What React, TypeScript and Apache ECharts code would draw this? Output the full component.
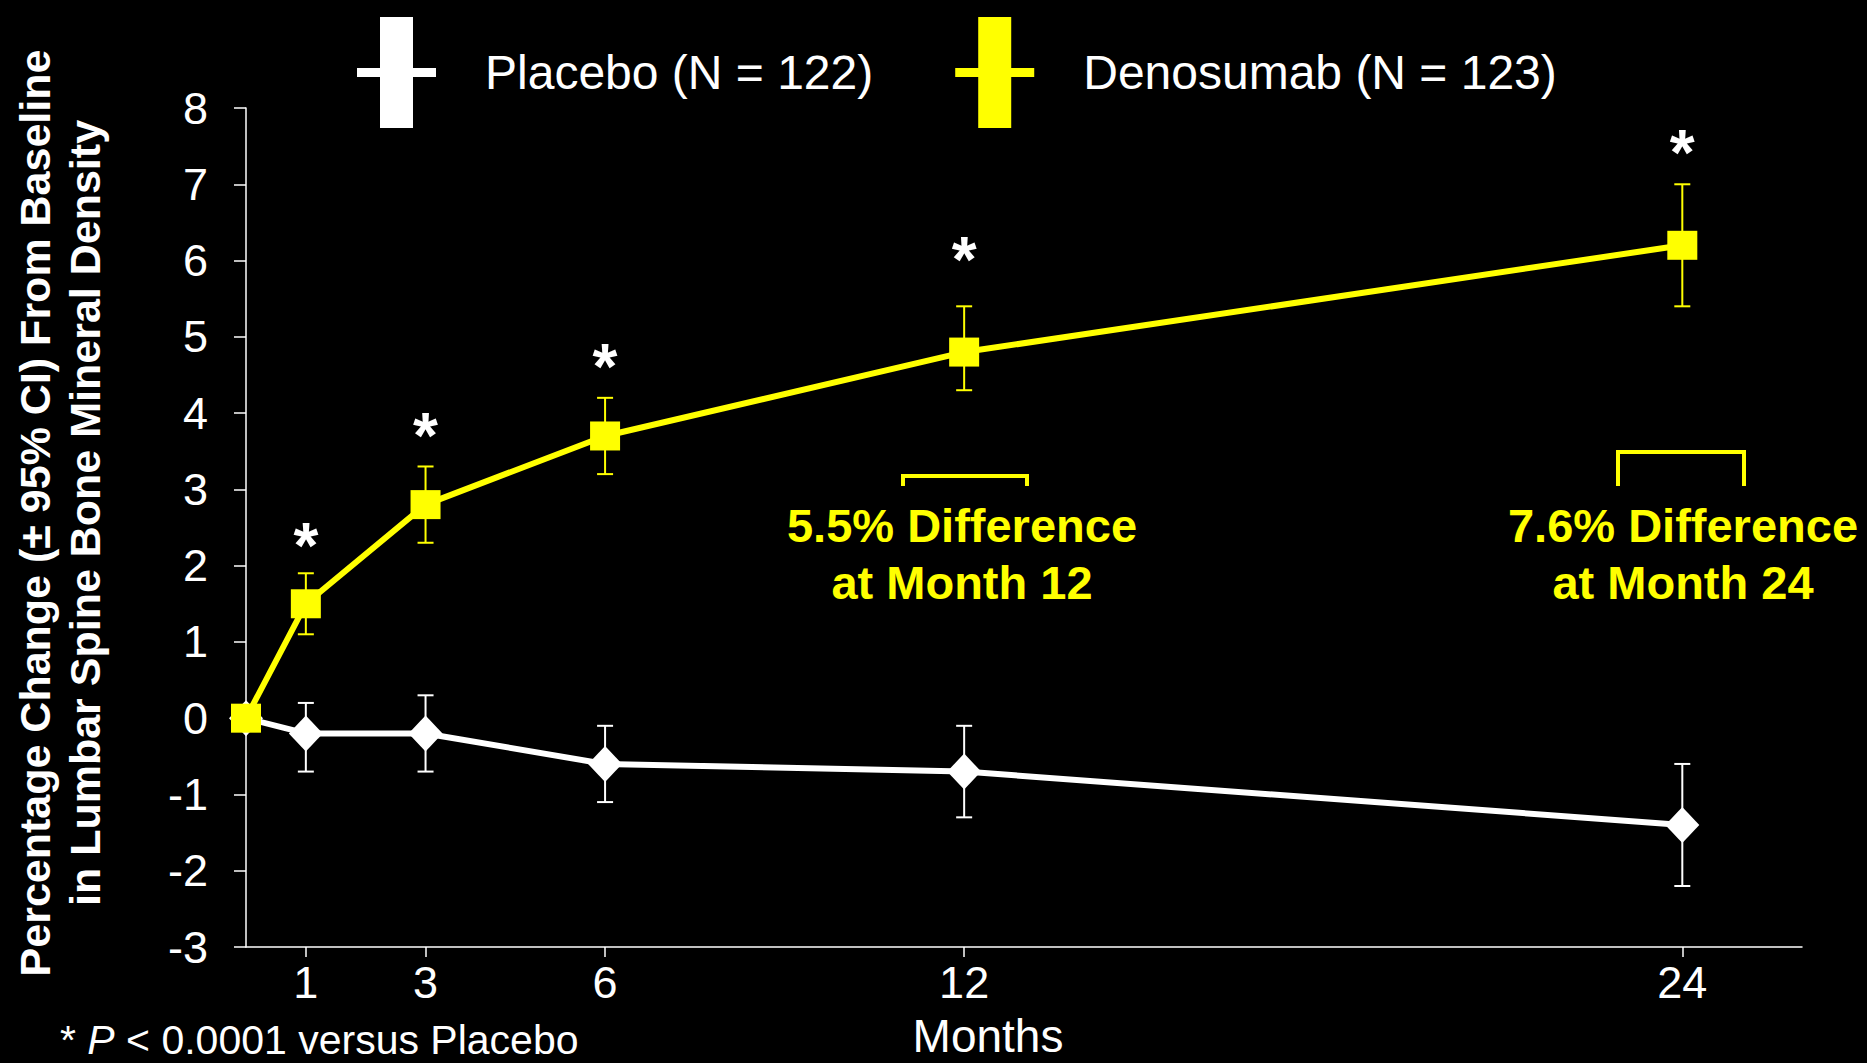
import React, { useEffect, useRef } from "react";
import * as echarts from "echarts";

const FONT = "'Liberation Sans', Arial, Helvetica, sans-serif";
const YELLOW = "#ffff00";
const WHITE = "#ffffff";

// Study visits (months) and mean % change in lumbar spine BMD with 95% CI bounds
const months = [0, 1, 3, 6, 12, 24];
const placeboMean = [0, -0.2, -0.2, -0.6, -0.7, -1.4];
const placeboLow = [null, -0.7, -0.7, -1.1, -1.3, -2.2];
const placeboHigh = [null, 0.2, 0.3, -0.1, -0.1, -0.6];
const denosumabMean = [0, 1.5, 2.8, 3.7, 4.8, 6.2];
const denosumabLow = [null, 1.1, 2.3, 3.2, 4.3, 5.4];
const denosumabHigh = [null, 1.9, 3.3, 4.2, 5.4, 7.0];

// Significance markers (P < 0.0001) above the denosumab points
const starMonths = [1, 3, 6, 12, 24];
const starLevels = [2.4, 3.85, 4.75, 6.15, 7.55];

const xTickMonths = [1, 3, 6, 12, 24];
const seriesNames = ["Placebo (N = 122)", "Denosumab (N = 123)"];

// Error-bar style legend glyph: thick vertical bar crossed by a thin arm
const crossIcon =
  "path://M23,0L56,0L56,51L79,51L79,60L56,60L56,111L23,111L23,60L0,60L0,51L23,51Z";

function pairs(xs: number[], ys: (number | null)[]) {
  return xs.map((x, i) => [x, ys[i]]);
}

function ciRows(lows: (number | null)[], highs: (number | null)[]) {
  const rows: number[][] = [];
  months.forEach((m, i) => {
    const lo = lows[i];
    const hi = highs[i];
    if (lo != null && hi != null) rows.push([m, lo, hi]);
  });
  return rows;
}

function errorBarSeries(rows: number[][], color: string) {
  return {
    type: "custom",
    z: 1,
    silent: true,
    data: rows,
    encode: { x: 0, y: [1, 2] },
    renderItem: (_params: any, api: any) => {
      const x = api.value(0);
      const top = api.coord([x, api.value(2)]);
      const bottom = api.coord([x, api.value(1)]);
      const half = 8;
      const style = { stroke: color, lineWidth: 2 };
      return {
        type: "group",
        children: [
          { type: "line", shape: { x1: top[0], y1: top[1], x2: bottom[0], y2: bottom[1] }, style },
          { type: "line", shape: { x1: top[0] - half, y1: top[1], x2: top[0] + half, y2: top[1] }, style },
          { type: "line", shape: { x1: bottom[0] - half, y1: bottom[1], x2: bottom[0] + half, y2: bottom[1] }, style },
        ],
      };
    },
  };
}

function bracket(x1: number, x2: number, yTop: number, yFoot: number) {
  return {
    type: "polyline",
    shape: { points: [[x1, yFoot], [x1, yTop], [x2, yTop], [x2, yFoot]] },
    style: { stroke: YELLOW, lineWidth: 4, fill: "none" },
    z: 10,
  };
}

function note(text: string, x: number, y: number) {
  return {
    type: "text",
    x,
    y,
    z: 10,
    style: {
      text,
      fill: YELLOW,
      font: `bold 47px ${FONT}`,
      align: "center",
      verticalAlign: "middle",
      lineHeight: 57,
    },
  };
}

export default function App() {
  const ref = useRef<HTMLDivElement>(null);

  useEffect(() => {
    if (!ref.current) return;
    const chart = echarts.init(ref.current, null, { renderer: "svg" });

    const option: any = {
      animation: false,
      backgroundColor: "#000000",
      textStyle: { fontFamily: FONT },
      grid: { left: 246, right: 65, top: 108, bottom: 116 },
      legend: {
        left: 352,
        top: 12,
        itemWidth: 79,
        itemHeight: 111,
        itemGap: 82,
        selectedMode: false,
        data: [
          { name: seriesNames[0], icon: crossIcon, itemStyle: { color: WHITE } },
          { name: seriesNames[1], icon: crossIcon, itemStyle: { color: YELLOW } },
        ],
        textStyle: { color: WHITE, fontSize: 48, fontFamily: FONT, padding: [0, 0, 0, 44] },
      },
      xAxis: {
        type: "value",
        min: 0,
        max: 26,
        splitLine: { show: false },
        axisLine: { show: true, onZero: false, lineStyle: { color: WHITE, width: 1.5 } },
        axisTick: {
          show: true,
          customValues: xTickMonths,
          length: 10,
          lineStyle: { color: WHITE, width: 1.5 },
        },
        axisLabel: {
          customValues: xTickMonths,
          color: WHITE,
          fontSize: 45,
          fontFamily: FONT,
          margin: 13,
        },
      },
      yAxis: {
        type: "value",
        min: -3,
        max: 8,
        interval: 1,
        splitLine: { show: false },
        axisLine: { show: true, lineStyle: { color: WHITE, width: 1.5 } },
        axisTick: { show: true, length: 12, lineStyle: { color: WHITE, width: 1.5 } },
        axisLabel: { color: WHITE, fontSize: 45, fontFamily: FONT, margin: 38 },
      },
      series: [
        errorBarSeries(ciRows(placeboLow, placeboHigh), WHITE),
        errorBarSeries(ciRows(denosumabLow, denosumabHigh), YELLOW),
        {
          name: seriesNames[0],
          type: "line",
          z: 2,
          data: pairs(months, placeboMean),
          symbol: "diamond",
          symbolSize: [34, 36],
          showAllSymbol: true,
          lineStyle: { color: WHITE, width: 6 },
          itemStyle: { color: WHITE, borderWidth: 0 },
        },
        {
          name: seriesNames[1],
          type: "line",
          z: 3,
          data: pairs(months, denosumabMean),
          symbol: "rect",
          symbolSize: [30, 29],
          showAllSymbol: true,
          lineStyle: { color: YELLOW, width: 6 },
          itemStyle: { color: YELLOW, borderWidth: 0 },
        },
        {
          type: "scatter",
          z: 4,
          silent: true,
          data: pairs(starMonths, starLevels),
          symbolSize: 1,
          itemStyle: { color: "rgba(0,0,0,0)", opacity: 1 },
          label: {
            show: true,
            position: "inside",
            formatter: "*",
            color: WHITE,
            opacity: 1,
            textBorderWidth: 0,
            fontSize: 64,
            fontWeight: "bold",
            fontFamily: FONT,
            offset: [0, 11],
          },
        },
      ],
      graphic: [
        {
          type: "text",
          x: 60,
          y: 513,
          rotation: Math.PI / 2,
          style: {
            text: "Percentage Change (\u00b1 95% CI) From Baseline\nin Lumbar Spine Bone Mineral Density",
            fill: WHITE,
            font: `bold 43px ${FONT}`,
            align: "center",
            verticalAlign: "middle",
            lineHeight: 50,
          },
        },
        {
          type: "text",
          x: 988,
          y: 1036,
          style: {
            text: "Months",
            fill: WHITE,
            font: `46px ${FONT}`,
            align: "center",
            verticalAlign: "middle",
          },
        },
        {
          type: "text",
          x: 60,
          y: 1040,
          style: {
            text: "{n|* }{i|P}{n| < 0.0001 versus Placebo}",
            fill: WHITE,
            verticalAlign: "middle",
            rich: {
              n: { fill: WHITE, fontSize: 41, fontFamily: FONT },
              i: { fill: WHITE, fontSize: 41, fontFamily: FONT, fontStyle: "italic" },
            },
          },
        },
        bracket(903, 1027, 476, 486),
        bracket(1618, 1744, 452, 486),
        note("5.5% Difference\nat Month 12", 962, 554),
        note("7.6% Difference\nat Month 24", 1683, 554),
      ],
    };

    chart.setOption(option);
    return () => chart.dispose();
  }, []);

  return (
    <div
      ref={ref}
      style={{ position: "absolute", left: 0, top: 0, width: 1867, height: 1063, background: "#000" }}
    />
  );
}
